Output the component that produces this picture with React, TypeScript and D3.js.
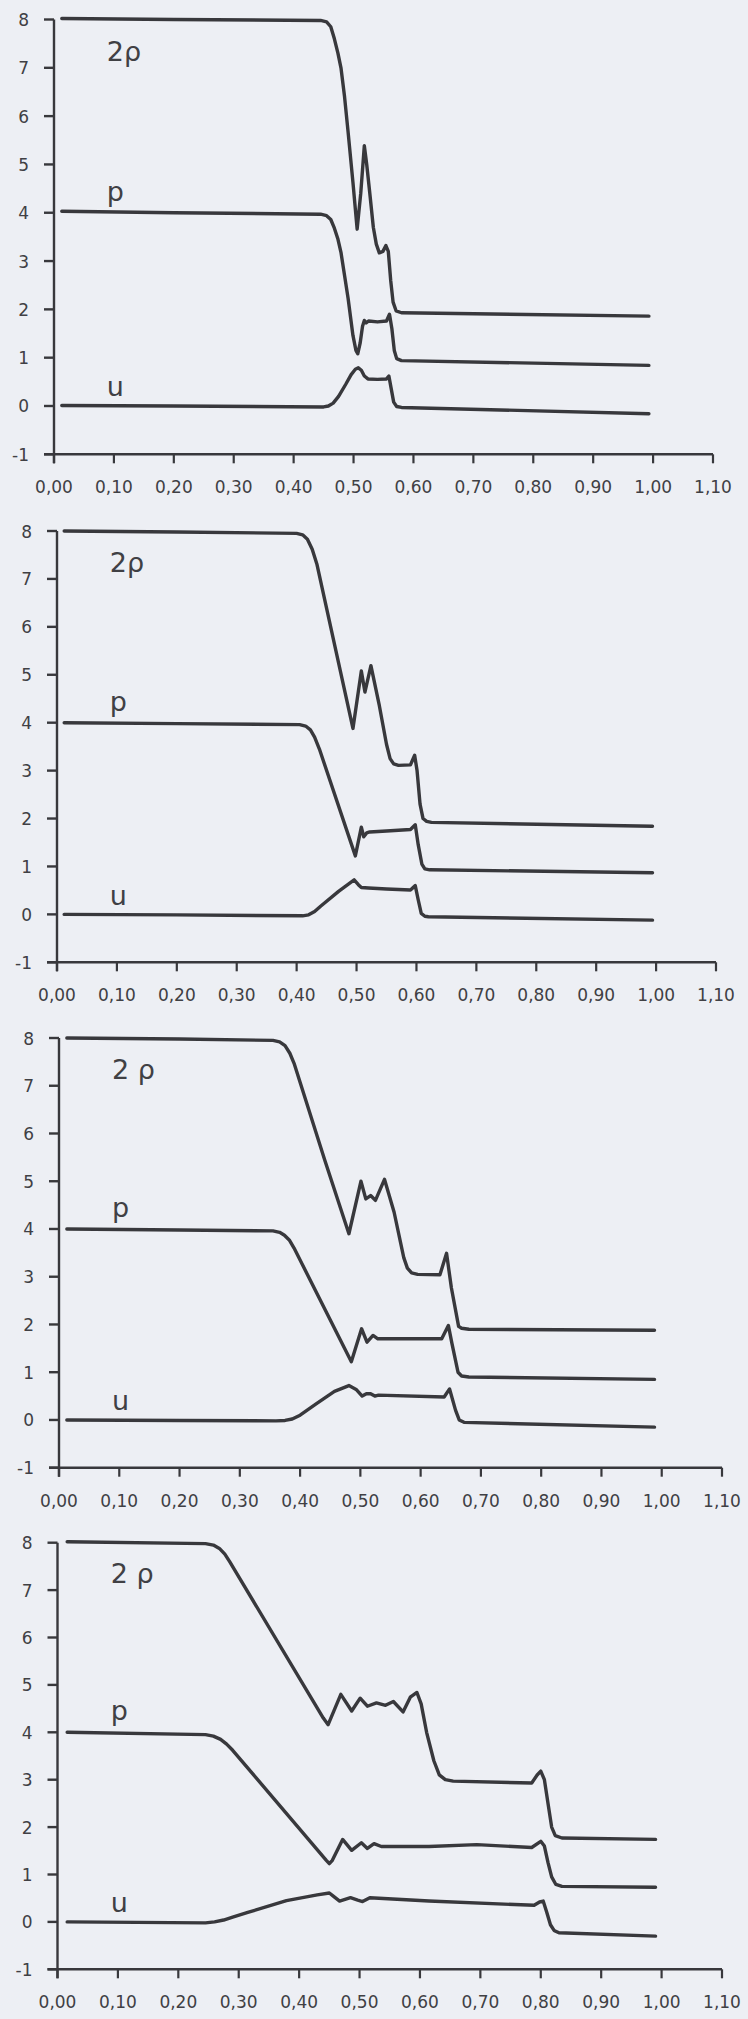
import React from "react";
import * as d3 from "d3";

type Pt = [number, number];

// ---- axis ticks ----
const xTickValues = [0, 0.1, 0.2, 0.3, 0.4, 0.5, 0.6, 0.7, 0.8, 0.9, 1.0, 1.1];
const xTickLabels = ["0,00", "0,10", "0,20", "0,30", "0,40", "0,50", "0,60", "0,70", "0,80", "0,90", "1,00", "1,10"];
const yTickValues = [-1, 0, 1, 2, 3, 4, 5, 6, 7, 8];
const yTickLabels = ["-1", "0", "1", "2", "3", "4", "5", "6", "7", "8"];

// ---- curve labels per panel ----
const panelLabels = [
  ["2ρ", "p", "u"],
  ["2ρ", "p", "u"],
  ["2 ρ", "p", "u"],
  ["2 ρ", "p", "u"],
];
const labelAnchorX = 0.088;
const labelAnchorY = [7.15, 4.25, 0.2];

// ---- panel 1 ----
const p1Rho: Pt[] = [
  [0.013, 8.02], [0.2, 8.0], [0.445, 7.98], [0.455, 7.95], [0.462, 7.85], [0.468, 7.6],
  [0.474, 7.3], [0.479, 7.0], [0.485, 6.4], [0.491, 5.66], [0.499, 4.63], [0.506, 3.66],
  [0.512, 4.4], [0.518, 5.39], [0.522, 5.0], [0.527, 4.42], [0.533, 3.7], [0.538, 3.35],
  [0.543, 3.17], [0.549, 3.2], [0.554, 3.32], [0.558, 3.2], [0.562, 2.6], [0.566, 2.15],
  [0.571, 1.97], [0.58, 1.93], [0.993, 1.86],
];
const p1P: Pt[] = [
  [0.013, 4.03], [0.2, 4.0], [0.445, 3.97], [0.455, 3.94], [0.462, 3.86], [0.468, 3.68],
  [0.474, 3.45], [0.479, 3.18], [0.485, 2.7], [0.491, 2.22], [0.499, 1.46], [0.504, 1.15],
  [0.507, 1.08], [0.511, 1.3], [0.515, 1.65], [0.518, 1.77], [0.521, 1.72], [0.525, 1.76],
  [0.54, 1.74], [0.555, 1.76], [0.56, 1.9], [0.564, 1.6], [0.568, 1.15], [0.572, 0.98],
  [0.58, 0.94], [0.993, 0.84],
];
const p1U: Pt[] = [
  [0.013, 0.01], [0.2, 0.0], [0.45, -0.02], [0.458, 0.0], [0.466, 0.06], [0.475, 0.2],
  [0.487, 0.45], [0.496, 0.65], [0.503, 0.76], [0.508, 0.79], [0.513, 0.74], [0.518, 0.62],
  [0.524, 0.56], [0.54, 0.55], [0.555, 0.56], [0.559, 0.62], [0.563, 0.35], [0.567, 0.08],
  [0.572, -0.01], [0.58, -0.03], [0.993, -0.16],
];

// ---- panel 2 ----
const p2Rho: Pt[] = [
  [0.012, 8.0], [0.2, 7.98], [0.4, 7.95], [0.41, 7.92], [0.418, 7.83], [0.426, 7.62],
  [0.434, 7.3], [0.494, 3.88], [0.508, 5.08], [0.514, 4.64], [0.524, 5.19], [0.538, 4.36],
  [0.55, 3.55], [0.556, 3.25], [0.562, 3.14], [0.57, 3.11], [0.59, 3.12], [0.597, 3.32],
  [0.601, 3.0], [0.606, 2.3], [0.611, 2.0], [0.617, 1.94], [0.625, 1.92], [0.994, 1.84],
];
const p2P: Pt[] = [
  [0.012, 4.0], [0.2, 3.98], [0.405, 3.96], [0.415, 3.93], [0.423, 3.85], [0.43, 3.7],
  [0.438, 3.45], [0.498, 1.22], [0.508, 1.82], [0.512, 1.62], [0.517, 1.7], [0.522, 1.72],
  [0.55, 1.74], [0.59, 1.77], [0.598, 1.87], [0.603, 1.45], [0.609, 1.05], [0.614, 0.95],
  [0.622, 0.93], [0.994, 0.87],
];
const p2U: Pt[] = [
  [0.012, 0.0], [0.2, -0.01], [0.41, -0.03], [0.42, -0.01], [0.43, 0.06], [0.44, 0.17],
  [0.47, 0.48], [0.496, 0.72], [0.503, 0.62], [0.508, 0.56], [0.52, 0.55], [0.55, 0.53],
  [0.59, 0.51], [0.598, 0.6], [0.603, 0.3], [0.608, 0.02], [0.614, -0.04], [0.62, -0.05],
  [0.994, -0.12],
];

// ---- panel 3 ----
const p3Rho: Pt[] = [
  [0.013, 8.0], [0.2, 7.98], [0.355, 7.95], [0.366, 7.92], [0.375, 7.84], [0.383, 7.68],
  [0.39, 7.47], [0.441, 5.44], [0.481, 3.9], [0.501, 5.0], [0.509, 4.63], [0.517, 4.7],
  [0.525, 4.6], [0.54, 5.04], [0.556, 4.35], [0.572, 3.4], [0.578, 3.18], [0.585, 3.08],
  [0.595, 3.05], [0.632, 3.04], [0.643, 3.49], [0.651, 2.77], [0.663, 1.96], [0.668, 1.92],
  [0.68, 1.9], [0.988, 1.88],
];
const p3P: Pt[] = [
  [0.013, 4.0], [0.2, 3.98], [0.355, 3.96], [0.366, 3.93], [0.374, 3.87], [0.382, 3.77],
  [0.39, 3.6], [0.485, 1.22], [0.502, 1.91], [0.511, 1.63], [0.521, 1.77], [0.529, 1.7],
  [0.635, 1.7], [0.646, 1.98], [0.652, 1.6], [0.662, 1.0], [0.668, 0.92], [0.68, 0.9],
  [0.988, 0.85],
];
const p3U: Pt[] = [
  [0.013, 0.0], [0.2, -0.01], [0.36, -0.02], [0.375, -0.01], [0.387, 0.02], [0.4, 0.1],
  [0.426, 0.33], [0.457, 0.6], [0.481, 0.72], [0.493, 0.64], [0.503, 0.5], [0.51, 0.55],
  [0.517, 0.55], [0.524, 0.5], [0.53, 0.52], [0.639, 0.48], [0.648, 0.65], [0.658, 0.2],
  [0.664, 0.0], [0.672, -0.05], [0.988, -0.15],
];

// ---- panel 4 ----
const p4Rho: Pt[] = [
  [0.016, 8.02], [0.245, 7.98], [0.258, 7.95], [0.268, 7.88], [0.277, 7.76], [0.285, 7.6],
  [0.44, 4.3], [0.448, 4.16], [0.469, 4.8], [0.487, 4.45], [0.501, 4.72], [0.513, 4.55],
  [0.528, 4.62], [0.543, 4.57], [0.556, 4.65], [0.572, 4.43], [0.584, 4.74], [0.595, 4.84],
  [0.602, 4.6], [0.611, 4.0], [0.623, 3.4], [0.632, 3.1], [0.642, 3.0], [0.655, 2.97],
  [0.785, 2.93], [0.794, 3.1], [0.8, 3.18], [0.806, 3.0], [0.812, 2.5], [0.818, 2.0],
  [0.824, 1.82], [0.835, 1.77], [0.99, 1.74],
];
const p4P: Pt[] = [
  [0.016, 4.0], [0.245, 3.95], [0.258, 3.92], [0.27, 3.85], [0.28, 3.75], [0.29, 3.62],
  [0.445, 1.3], [0.45, 1.23], [0.455, 1.3], [0.472, 1.74], [0.487, 1.51], [0.503, 1.67],
  [0.513, 1.55], [0.524, 1.65], [0.536, 1.59], [0.615, 1.59], [0.694, 1.63], [0.785, 1.57],
  [0.8, 1.7], [0.806, 1.6], [0.812, 1.25], [0.818, 0.95], [0.825, 0.79], [0.835, 0.75],
  [0.99, 0.73],
];
const p4U: Pt[] = [
  [0.016, 0.0], [0.245, -0.02], [0.26, 0.0], [0.275, 0.04], [0.29, 0.1], [0.315, 0.2],
  [0.379, 0.45], [0.43, 0.57], [0.45, 0.61], [0.456, 0.55], [0.467, 0.44], [0.485, 0.51],
  [0.497, 0.46], [0.505, 0.43], [0.517, 0.51], [0.615, 0.44], [0.789, 0.35], [0.798, 0.42],
  [0.804, 0.44], [0.81, 0.2], [0.816, -0.06], [0.822, -0.18], [0.83, -0.23], [0.99, -0.3],
];

const panelSeries: Pt[][][] = [
  [p1Rho, p1P, p1U],
  [p2Rho, p2P, p2U],
  [p3Rho, p3P, p3U],
  [p4Rho, p4P, p4U],
];

// ---- layout (pixels) ----
const W = 748;
const H = 2019;
const panelBoxes = [
  { left: 54, right: 713, top: 19.5, bottom: 454.3 },
  { left: 57, right: 716, top: 531, bottom: 962.3 },
  { left: 59, right: 722, top: 1038, bottom: 1467.7 },
  { left: 57.5, right: 722, top: 1542.7, bottom: 1969.3 },
];

const BG = "#edeff4";
const INK = "#38383c";
const TXT = "#404044";
const FONT = "'DejaVu Sans', 'Liberation Sans', sans-serif";

function Panel({ idx }: { idx: number }) {
  const b = panelBoxes[idx];
  const x = d3.scaleLinear().domain([0, 1.1]).range([b.left, b.right]);
  const y = d3.scaleLinear().domain([-1, 8]).range([b.bottom, b.top]);
  const line = d3
    .line<Pt>()
    .x((d) => x(d[0]))
    .y((d) => y(d[1]))
    .curve(d3.curveLinear);
  const x0 = x(0);
  const yBase = y(-1);
  return (
    <g>
      {/* y axis */}
      <line x1={x0} x2={x0} y1={y(8)} y2={yBase + 9} stroke={INK} strokeWidth={2.4} />
      {yTickValues.map((v, i) => (
        <g key={"yt" + i}>
          <line x1={x0 - 10} x2={x0} y1={y(v)} y2={y(v)} stroke={INK} strokeWidth={2.4} />
          <text
            x={x0 - 25}
            y={y(v) + 6.5}
            textAnchor="end"
            fontFamily={FONT}
            fontSize={17}
            fill={TXT}
          >
            {yTickLabels[i]}
          </text>
        </g>
      ))}
      {/* x axis */}
      <line x1={x0 - 10} x2={x(1.1)} y1={yBase} y2={yBase} stroke={INK} strokeWidth={2.4} />
      {xTickValues.map((v, i) => (
        <g key={"xt" + i}>
          <line x1={x(v)} x2={x(v)} y1={yBase} y2={yBase + 9} stroke={INK} strokeWidth={2.2} />
          <text
            x={x(v)}
            y={yBase + 39}
            textAnchor="middle"
            fontFamily={FONT}
            fontSize={17}
            fill={TXT}
          >
            {xTickLabels[i]}
          </text>
        </g>
      ))}
      {/* curves */}
      {panelSeries[idx].map((s, i) => (
        <path
          key={"s" + i}
          d={line(s) || ""}
          fill="none"
          stroke={INK}
          strokeWidth={3.4}
          strokeLinejoin="round"
          strokeLinecap="round"
        />
      ))}
      {/* curve labels */}
      {panelLabels[idx].map((t, i) => (
        <text
          key={"l" + i}
          x={x(labelAnchorX)}
          y={y(labelAnchorY[i])}
          fontFamily={FONT}
          fontSize={27}
          fill={TXT}
        >
          {t}
        </text>
      ))}
    </g>
  );
}

export default function App() {
  return (
    <svg
      width={W}
      height={H}
      viewBox={`0 0 ${W} ${H}`}
      style={{ position: "absolute", left: 0, top: 0, display: "block" }}
    >
      <rect x={0} y={0} width={W} height={H} fill={BG} />
      {panelBoxes.map((_, i) => (
        <Panel key={i} idx={i} />
      ))}
    </svg>
  );
}
